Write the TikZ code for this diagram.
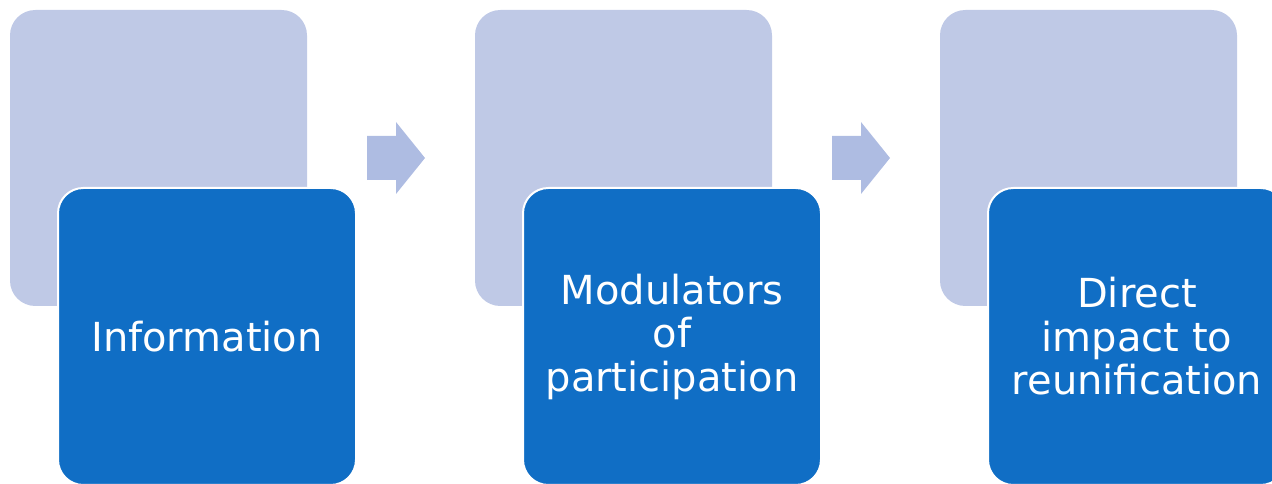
\documentclass[tikz,border=0pt]{standalone}
\usepackage{fontspec}
\setmainfont{DejaVu Sans}
\definecolor{backcol}{RGB}{191,201,230}
\definecolor{arrowcol}{RGB}{174,188,226}
\definecolor{frontcol}{RGB}{16,110,197}
\tikzset{
  backbox/.style={draw=none, fill=backcol, rounded corners=19pt, minimum width=222.75pt, minimum height=222pt, inner sep=0pt},
  frontbox/.style={draw=white, line width=1.5pt, fill=frontcol, rounded corners=19pt, minimum width=223.5pt, minimum height=222.75pt, inner sep=0pt, text=white, align=center, font=\fontsize{30pt}{32.6pt}\selectfont},
  flowarrow/.style={fill=arrowcol, draw=none}
}
\begin{document}
\begin{tikzpicture}[x=0.75pt, y=-0.75pt]
\useasboundingbox (0,0) rectangle (1272,484);
\clip (0,0) rectangle (1272,484);
\foreach \i/\t in {0/{Information}, 1/{Modulators\\of\\participation}, 2/{Direct\\impact to\\reunification}} {
  \node[backbox] (back\i) at ({158.5+465*\i},158) {};
  \node[frontbox] (front\i) at ({207+465*\i},336.5) {\t};
}
\foreach \i in {0,1} {
  \coordinate (a\i) at (front\i.east |- back\i.east);
  \fill[flowarrow] (a\i) ++(10,-22) -- ++(29,0) -- ++(0,-14) -- ++(29,36) -- ++(-29,36) -- ++(0,-14) -- ++(-29,0) -- cycle;
}
\end{tikzpicture}
\end{document}
